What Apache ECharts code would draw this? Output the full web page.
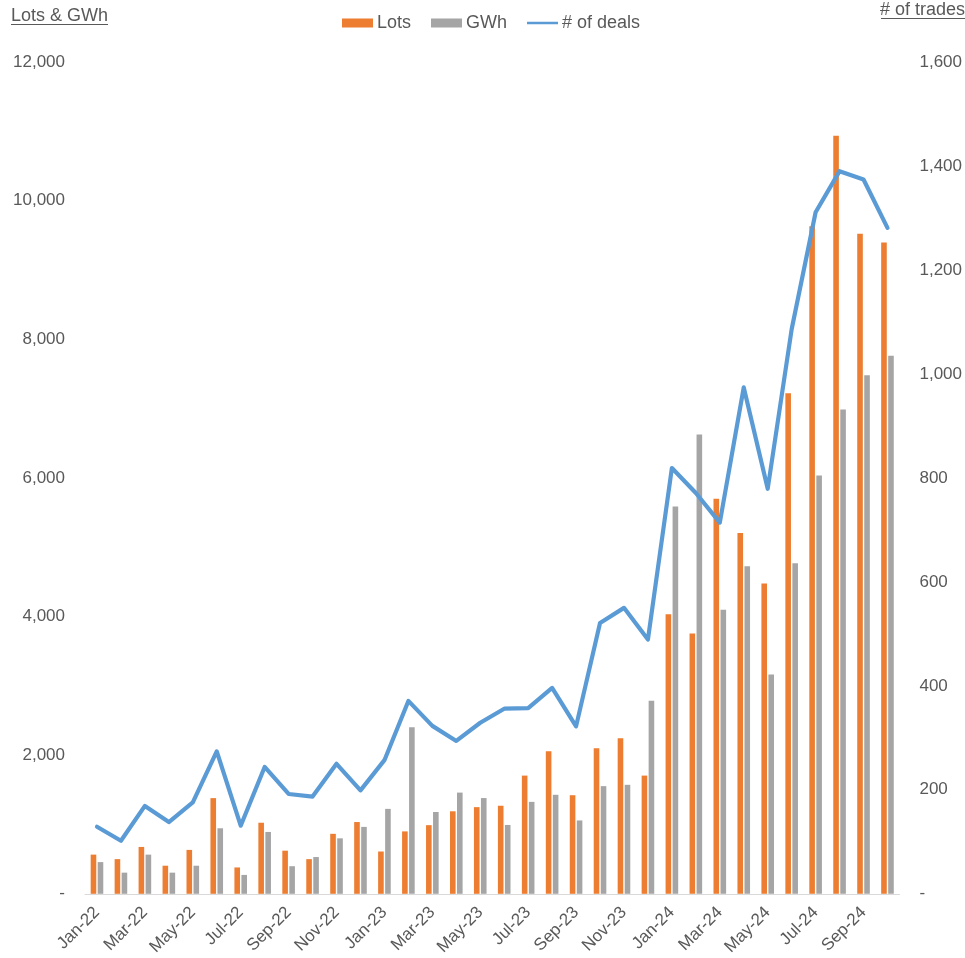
<!DOCTYPE html>
<html>
<head>
<meta charset="utf-8">
<script src="https://cdn.jsdelivr.net/npm/echarts@6/dist/echarts.min.js"></script>
<style>
html,body{margin:0;padding:0;background:#fff;}
#chart{width:965px;height:958px;}
</style>
</head>
<body>
<div id="chart"></div>
<script>
var months = ['Jan-22','Feb-22','Mar-22','Apr-22','May-22','Jun-22','Jul-22','Aug-22','Sep-22','Oct-22','Nov-22','Dec-22',
  'Jan-23','Feb-23','Mar-23','Apr-23','May-23','Jun-23','Jul-23','Aug-23','Sep-23','Oct-23','Nov-23','Dec-23',
  'Jan-24','Feb-24','Mar-24','Apr-24','May-24','Jun-24','Jul-24','Aug-24','Sep-24','Oct-24'];
var lots = [565, 500, 676, 405, 633, 1380, 380, 1025, 622, 500, 865, 1035,
  610, 900, 990, 1190, 1250, 1270, 1705, 2058, 1422, 2100, 2245, 1705,
  4032, 3755, 5698, 5205, 4475, 7222, 9630, 10935, 9522, 9396];
var gwh = [457, 305, 565, 305, 405, 945, 272, 892, 398, 530, 800, 965,
  1225, 2402, 1180, 1460, 1381, 993, 1326, 1428, 1058, 1553, 1572, 2786,
  5586, 6627, 4097, 4724, 3165, 4770, 6035, 6988, 7482, 7762];
var deals = [129, 102, 169, 138, 176, 274, 131, 244, 192, 187, 250, 199,
  257, 371, 323, 294, 329, 356, 357, 396, 322, 521, 550, 489,
  819, 771, 714, 974, 779, 1086, 1311, 1390, 1374, 1281];
var leftTicks = {min: 0, max: 12000, interval: 2000};
var rightTicks = {min: 0, max: 1600, interval: 200};

var FONT = "'Liberation Sans', Arial, sans-serif";
var TXT = '#595959';
function fmt(v){ return v === 0 ? '-' : v.toLocaleString('en-US'); }

var chart = echarts.init(document.getElementById('chart'));
chart.setOption({
  animation: false,
  textStyle: {fontFamily: FONT, color: TXT},
  grid: {left: 85, right: 64, top: 62, bottom: 62, containLabel: false},
  legend: {
    data: [
      {name: 'Lots', icon: 'rect'},
      {name: 'GWh', icon: 'rect'},
      {name: '# of deals', icon: 'path://M0,0 L0,0 Z M0,3 L34,3 L34,6 L0,6 Z M34,9 L34,9 Z'}
    ],
    left: 337, top: 9,
    itemWidth: 31, itemHeight: 9, itemGap: 20,
    itemStyle: {borderWidth: 0},
    textStyle: {fontFamily: FONT, fontSize: 18, color: TXT, padding: [0,0,0,-1]},
    selectedMode: false
  },
  graphic: [
    {type: 'text', left: 11, top: 7, style: {text: 'Lots & GWh', font: '18px ' + FONT, fill: TXT}},
    {type: 'rect', shape: {x: 11, y: 24, width: 97, height: 1}, style: {fill: TXT}},
    {type: 'text', right: 0, top: 1, style: {text: '# of trades', font: '18px ' + FONT, fill: TXT}},
    {type: 'rect', shape: {x: 881, y: 18, width: 84, height: 1}, style: {fill: TXT}}
  ],
  xAxis: {
    type: 'category',
    data: months,
    boundaryGap: true,
    axisLine: {lineStyle: {color: '#D9D9D9', width: 1}},
    axisTick: {interval: 1, length: 6, lineStyle: {color: '#D9D9D9'}},
    axisLabel: {interval: 1, rotate: 45, margin: 16, fontSize: 17, color: TXT, fontFamily: FONT}
  },
  yAxis: [
    {
      type: 'value', min: leftTicks.min, max: leftTicks.max, interval: leftTicks.interval,
      axisLine: {show: false}, axisTick: {show: false}, splitLine: {show: false},
      axisLabel: {formatter: fmt, fontSize: 17, color: TXT, margin: 20, fontFamily: FONT}
    },
    {
      type: 'value', min: rightTicks.min, max: rightTicks.max, interval: rightTicks.interval,
      position: 'right',
      axisLine: {show: false}, axisTick: {show: false}, splitLine: {show: false},
      axisLabel: {formatter: fmt, fontSize: 17, color: TXT, margin: 20, align: 'left', fontFamily: FONT}
    }
  ],
  series: [
    {name: 'Lots', type: 'bar', data: lots, yAxisIndex: 0, barWidth: 5.6, barGap: '25%',
     itemStyle: {color: '#ED7D31'}},
    {name: 'GWh', type: 'bar', data: gwh, yAxisIndex: 0, barWidth: 5.6, barGap: '25%',
     itemStyle: {color: '#A5A5A5'}},
    {name: '# of deals', type: 'line', data: deals, yAxisIndex: 1, symbol: 'none',
     lineStyle: {color: '#5B9BD5', width: 4.2, join: 'round', cap: 'round'},
     itemStyle: {color: '#5B9BD5'}, z: 5}
  ]
});
</script>
</body>
</html>
